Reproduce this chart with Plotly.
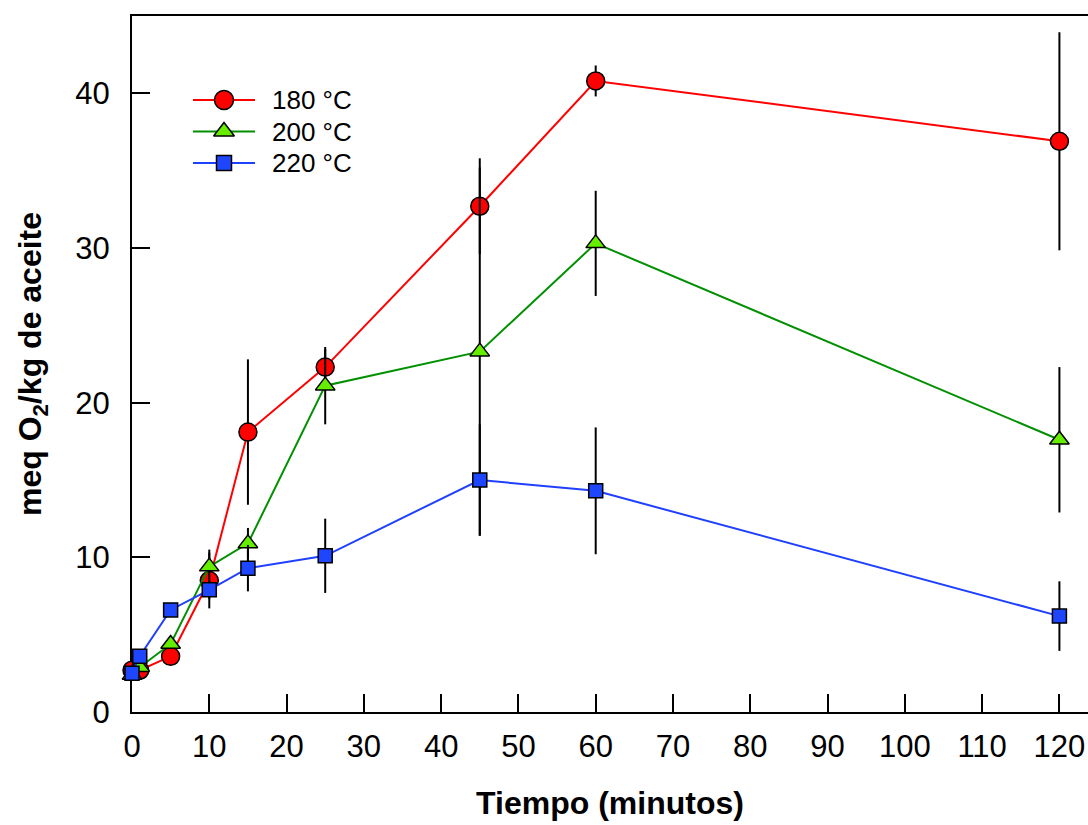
import plotly.graph_objects as go

time_min = [0, 1, 5, 10, 15, 25, 45, 60, 120]

s180 = [2.7, 2.7, 3.6, 8.5, 18.1, 22.3, 32.7, 40.8, 36.9]
e180 = [0.2, 0.2, 0.3, 1.8, 4.7, 1.15, 3.1, 1.0, 7.05]

s200 = [2.4, 2.9, 4.4, 9.4, 10.9, 21.1, 23.3, 30.3, 17.6]
e200 = [0.2, 0.2, 0.3, 1.1, 1.0, 2.5, 11.9, 3.4, 4.7]

s220 = [2.5, 3.6, 6.6, 7.9, 9.3, 10.1, 15.0, 14.3, 6.2]
e220 = [0.2, 0.2, 0.3, 0.6, 1.5, 2.4, 3.6, 4.1, 2.25]

labels = ["180 °C", "200 °C", "220 °C"]
x_ticks = list(range(0, 121, 10))
y_ticks = [0, 10, 20, 30, 40]

FONT = "Liberation Sans, Arial, sans-serif"

fig = go.Figure()

styles = [
    (s180, e180, labels[0], "#FF0000", "#FF0000", "circle", 18),
    (s200, e200, labels[1], "#009000", "#66EE00", "triangle-up", 17),
    (s220, e220, labels[2], "#1F40FF", "#1E46FF", "square", 14),
]
for vals, errs, name, lc, mc, sym, sz in styles:
    fig.add_trace(go.Scatter(
        x=time_min, y=vals, name=name, mode="lines+markers", showlegend=False,
        line=dict(color=lc, width=2),
        marker=dict(symbol=sym, size=sz, color=mc, line=dict(color="black", width=1.5)),
        error_y=dict(type="data", array=errs, visible=True, color="black", thickness=2, width=0),
        cliponaxis=False,
    ))

# Manual legend drawn in an inset axis
for i, (vals, errs, name, lc, mc, sym, sz) in enumerate(styles):
    row = i + 1
    fig.add_trace(go.Scatter(
        x=[0, 1], y=[row, row], mode="lines", line=dict(color=lc, width=2),
        xaxis="x2", yaxis="y2", showlegend=False, hoverinfo="skip",
    ))
    fig.add_trace(go.Scatter(
        x=[0.5], y=[row], mode="markers",
        marker=dict(symbol=sym, size=sz + 1, color=mc, line=dict(color="black", width=1.5)),
        xaxis="x2", yaxis="y2", showlegend=False, hoverinfo="skip", cliponaxis=False,
    ))
    fig.add_annotation(
        x=(270 - 132) / 956, xref="paper", y=row, yref="y2", text=name,
        showarrow=False, xanchor="left", yanchor="middle",
        font=dict(size=26, family=FONT, color="black"),
    )

fig.update_layout(
    width=1088, height=825,
    margin=dict(l=132, r=0, t=16, b=113),
    paper_bgcolor="white", plot_bgcolor="white",
    font=dict(family=FONT, color="black"),
    showlegend=False,
    xaxis=dict(
        range=[0, 123.7], tickvals=x_ticks, ticks="inside", ticklen=18, tickwidth=2,
        tickcolor="black", showline=True, linecolor="black", linewidth=2, mirror=True,
        showgrid=False, zeroline=False, tickfont=dict(size=31, family=FONT),
        ticklabelstandoff=6, layer="below traces",
        title=dict(text="<b>Tiempo (minutos)</b>", font=dict(size=32, family=FONT), standoff=28),
    ),
    yaxis=dict(
        range=[0, 45], tickvals=y_ticks, ticks="inside", ticklen=18, tickwidth=2,
        tickcolor="black", showline=True, linecolor="black", linewidth=2, mirror=False,
        showgrid=False, zeroline=False, tickfont=dict(size=31, family=FONT),
        ticklabelstandoff=14, layer="below traces",
        title=dict(text="<b>meq O<sub>2</sub>/kg de aceite</b>", font=dict(size=32, family=FONT), standoff=24),
    ),
    xaxis2=dict(
        domain=[(193 - 132) / 956, (255 - 132) / 956], range=[0, 1], anchor="y2",
        visible=False, fixedrange=True,
    ),
    yaxis2=dict(
        domain=[(712 - 178.75) / 696, (712 - 84.25) / 696], range=[3.5, 0.5], anchor="x2",
        visible=False, fixedrange=True,
    ),
)

fig.write_html("out.html")
